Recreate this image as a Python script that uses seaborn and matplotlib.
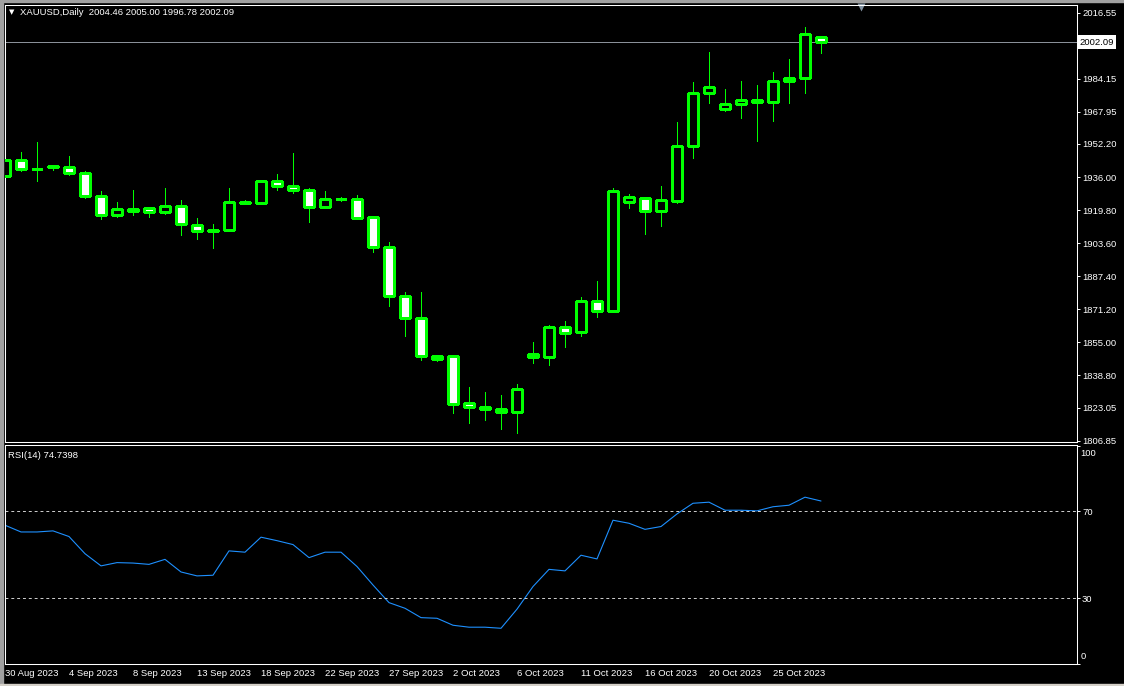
import numpy as np
import pandas as pd
import seaborn as sns
import matplotlib.pyplot as plt

# XAUUSD daily bars (broker feed includes the short Sunday sessions)
bar_dates = ['2023-08-30', '2023-08-31', '2023-09-01', '2023-09-03', '2023-09-04', '2023-09-05',
             '2023-09-06', '2023-09-07', '2023-09-08', '2023-09-10', '2023-09-11', '2023-09-12',
             '2023-09-13', '2023-09-14', '2023-09-15', '2023-09-17', '2023-09-18', '2023-09-19',
             '2023-09-20', '2023-09-21', '2023-09-22', '2023-09-24', '2023-09-25', '2023-09-26',
             '2023-09-27', '2023-09-28', '2023-09-29', '2023-10-01', '2023-10-02', '2023-10-03',
             '2023-10-04', '2023-10-05', '2023-10-06', '2023-10-08', '2023-10-09', '2023-10-10',
             '2023-10-11', '2023-10-12', '2023-10-13', '2023-10-15', '2023-10-16', '2023-10-17',
             '2023-10-18', '2023-10-19', '2023-10-20', '2023-10-22', '2023-10-23', '2023-10-24',
             '2023-10-25', '2023-10-26', '2023-10-27', '2023-10-29']

opens = [1936.3, 1944.4, 1940.0, 1941.2, 1940.9, 1938.0, 1926.7, 1917.2, 1920.4, 1920.8,
         1918.7, 1921.8, 1912.5, 1909.4, 1910.1, 1923.7, 1923.1, 1934.1, 1931.6, 1929.6,
         1921.1, 1925.2, 1925.3, 1916.4, 1901.7, 1877.7, 1867.0, 1848.3, 1848.3, 1825.3,
         1823.3, 1822.4, 1821.1, 1849.3, 1847.9, 1862.5, 1859.9, 1875.3, 1870.6, 1923.6,
         1925.7, 1919.2, 1924.4, 1951.0, 1977.2, 1969.2, 1971.8, 1973.8, 1972.8, 1983.1,
         1984.6, 2004.46]
highs = [1949.3, 1948.4, 1953.3, 1941.6, 1946.5, 1939.1, 1929.3, 1923.9, 1929.8, 1920.9,
         1930.8, 1924.9, 1916.1, 1913.2, 1930.8, 1924.9, 1934.7, 1937.7, 1948.0, 1930.8,
         1929.3, 1926.2, 1927.4, 1916.6, 1904.3, 1879.8, 1879.8, 1848.8, 1848.8, 1833.3,
         1830.8, 1829.4, 1834.8, 1855.3, 1863.7, 1865.6, 1877.4, 1885.2, 1930.8, 1927.9,
         1926.4, 1931.8, 1963.1, 1982.7, 1997.4, 1979.3, 1983.2, 1981.3, 1987.6, 1994.0,
         2009.7, 2005.00]
lows = [1934.9, 1939.1, 1934.2, 1939.3, 1936.8, 1925.5, 1915.3, 1916.3, 1917.2, 1916.6,
        1918.0, 1907.4, 1905.5, 1901.0, 1910.0, 1922.6, 1923.0, 1929.8, 1928.0, 1913.8,
        1921.0, 1924.4, 1915.3, 1899.1, 1872.6, 1858.0, 1846.2, 1845.7, 1820.6, 1815.3,
        1816.8, 1812.7, 1810.4, 1845.0, 1844.1, 1852.9, 1858.3, 1867.6, 1870.2, 1921.0,
        1908.3, 1912.2, 1923.4, 1945.2, 1972.1, 1968.5, 1964.8, 1953.5, 1963.3, 1972.1,
        1977.0, 1996.78]
closes = [1944.4, 1939.8, 1940.0, 1940.8, 1938.0, 1926.5, 1917.2, 1920.4, 1919.2, 1918.7,
          1921.8, 1912.8, 1909.4, 1910.0, 1923.8, 1923.3, 1934.1, 1931.4, 1929.4, 1921.1,
          1925.3, 1925.2, 1916.1, 1901.5, 1877.5, 1866.8, 1848.5, 1846.7, 1825.0, 1823.1,
          1822.2, 1821.1, 1832.2, 1847.6, 1862.7, 1859.8, 1875.3, 1870.6, 1929.2, 1926.2,
          1919.2, 1924.8, 1951.1, 1977.2, 1980.1, 1971.8, 1973.8, 1972.8, 1983.1, 1984.6,
          2006.1, 2002.09]
rsi_values = [63.6, 60.5, 60.5, 61.0, 58.4, 50.5, 44.9, 46.4, 46.2, 45.6,
              47.9, 42.1, 40.3, 40.6, 51.8, 51.2, 58.1, 56.5, 54.7, 48.7,
              51.2, 51.2, 44.6, 36.1, 28.0, 25.4, 21.1, 20.8, 17.6, 16.7,
              16.7, 16.2, 25.0, 35.4, 43.3, 42.6, 49.8, 48.1, 65.9, 64.5,
              61.7, 63.0, 68.8, 73.7, 74.2, 70.5, 70.5, 70.2, 72.1, 72.8,
              76.5, 74.7398]

price_ticks = [2016.55, 1984.15, 1967.95, 1952.20, 1936.00, 1919.80, 1903.60,
               1887.40, 1871.20, 1855.00, 1838.80, 1823.05, 1806.85]
rsi_ticks = [100, 70, 30, 0]
rsi_levels = [70, 30]
date_labels = ['30 Aug 2023', '4 Sep 2023', '8 Sep 2023', '13 Sep 2023', '18 Sep 2023',
               '22 Sep 2023', '27 Sep 2023', '2 Oct 2023', '6 Oct 2023', '11 Oct 2023',
               '16 Oct 2023', '20 Oct 2023', '25 Oct 2023']

df = pd.DataFrame({'date': pd.to_datetime(bar_dates), 'open': opens, 'high': highs,
                   'low': lows, 'close': closes, 'rsi': rsi_values})
df['bar'] = np.arange(len(df))

LIME = '#00ff00'
W, H = 1124, 686

sns.set_style('dark', {'axes.facecolor': 'black', 'figure.facecolor': 'black',
                       'axes.edgecolor': 'white', 'text.color': 'white',
                       'xtick.color': 'white', 'ytick.color': 'white'})
plt.rcParams['font.family'] = ['Liberation Sans', 'DejaVu Sans']
plt.rcParams['font.size'] = 6.8

fig = plt.figure(figsize=(W / 100, H / 100), dpi=100)
left, right = 4.5, 1076.5
ax = fig.add_axes([left / W, 1 - 442 / H, (right - left) / W, (442 - 4.5) / H])
ax2 = fig.add_axes([left / W, 1 - 663.5 / H, (right - left) / W, (663.5 - 445) / H])

xlim = ((left - 5) / 16, (right - 5) / 16)

# candles: bull = black body, bear = white body
up = df['close'] >= df['open']
ax.vlines(df['bar'], df['low'], df['high'], color=LIME, lw=0.6, antialiased=False, zorder=2)
ax.bar(df['bar'], (df['close'] - df['open']).abs(), bottom=np.minimum(df['open'], df['close']),
       width=0.62, color=np.where(up, 'black', 'white'), edgecolor=LIME, linewidth=1.0,
       antialiased=False, zorder=3)
last = df['close'].iloc[-1]
ax.axhline(last, color='#8a9099', lw=0.7, antialiased=False, zorder=1)
ax.set_xlim(*xlim)
ax.set_ylim(1806.2, 2020.5)
ax.set_xticks([])
ax.yaxis.tick_right()
ax.set_yticks(price_ticks)
ax.set_yticklabels([f'{p:.2f}' for p in price_ticks])
ax.tick_params(axis='y', direction='out', length=2.5, width=0.7, pad=1.5, colors='white')
ax.text(1 + 2.5 / (right - left), last, f'{last:.2f}',
        transform=ax.get_yaxis_transform(), ha='left', va='center', color='black',
        bbox=dict(boxstyle='square,pad=0.25', fc='white', ec='none'), clip_on=False)
ax.plot([(860.5 - left) / (right - left)], [1 - 2.5 / 437], marker='v', ms=5.5, color='#8090a0',
        mec='none', transform=ax.transAxes, clip_on=False)

# RSI(14)
sns.lineplot(data=df, x='bar', y='rsi', ax=ax2, color='#1e90ff', lw=0.8)
for lvl in rsi_levels:
    ax2.axhline(lvl, color='#d0d0d0', lw=0.7, ls=(0, (3, 3)))
ax2.set_xlim(*xlim)
ax2.set_ylim(0.3, 100.5)
ax2.set_xlabel('')
ax2.set_ylabel('')
ax2.yaxis.tick_right()
ax2.set_yticks(rsi_ticks)
ax2.set_yticklabels(['', '70', '30', ''])
ytr = ax2.get_yaxis_transform()
ax2.text(1 + 4 / (right - left), 96.8, '100', transform=ytr, ha='left', va='center')
ax2.text(1 + 4 / (right - left), 3.3, '0', transform=ytr, ha='left', va='center')
ax2.set_xticks(df['bar'].iloc[::4])
ax2.set_xticklabels(date_labels, ha='left')
ax2.tick_params(axis='y', direction='out', length=2.5, width=0.7, pad=1.5, colors='white')
ax2.tick_params(axis='x', direction='out', length=2.5, width=0.7, pad=1.5, colors='white')

for a in (ax, ax2):
    a.grid(False)
    for s in a.spines.values():
        s.set_color('white')
        s.set_linewidth(0.75)

fig.text(12 / W, 1 - 12.5 / H, '\u25bc', color='white', fontsize=5, ha='center', va='center',
         family=['DejaVu Sans'])
fig.text(20 / W, 1 - 12.5 / H, 'XAUUSD,Daily  2004.46 2005.00 1996.78 2002.09',
         color='white', ha='left', va='center')
fig.text(8 / W, 1 - 455 / H, 'RSI(14) 74.7398', color='white', ha='left', va='center')

# window frame
fig.add_artist(plt.Rectangle((0, 0), 3 / W, 1, transform=fig.transFigure, color='#a0a0a0'))
fig.add_artist(plt.Rectangle((0, 1 - 1.5 / H), 1, 1.5 / H, transform=fig.transFigure, color='#a0a0a0'))
fig.add_artist(plt.Rectangle((0, 0), 1, 2.5 / H, transform=fig.transFigure, color='#d4d0c8'))

fig.savefig('out.png', dpi=100, facecolor='black')
